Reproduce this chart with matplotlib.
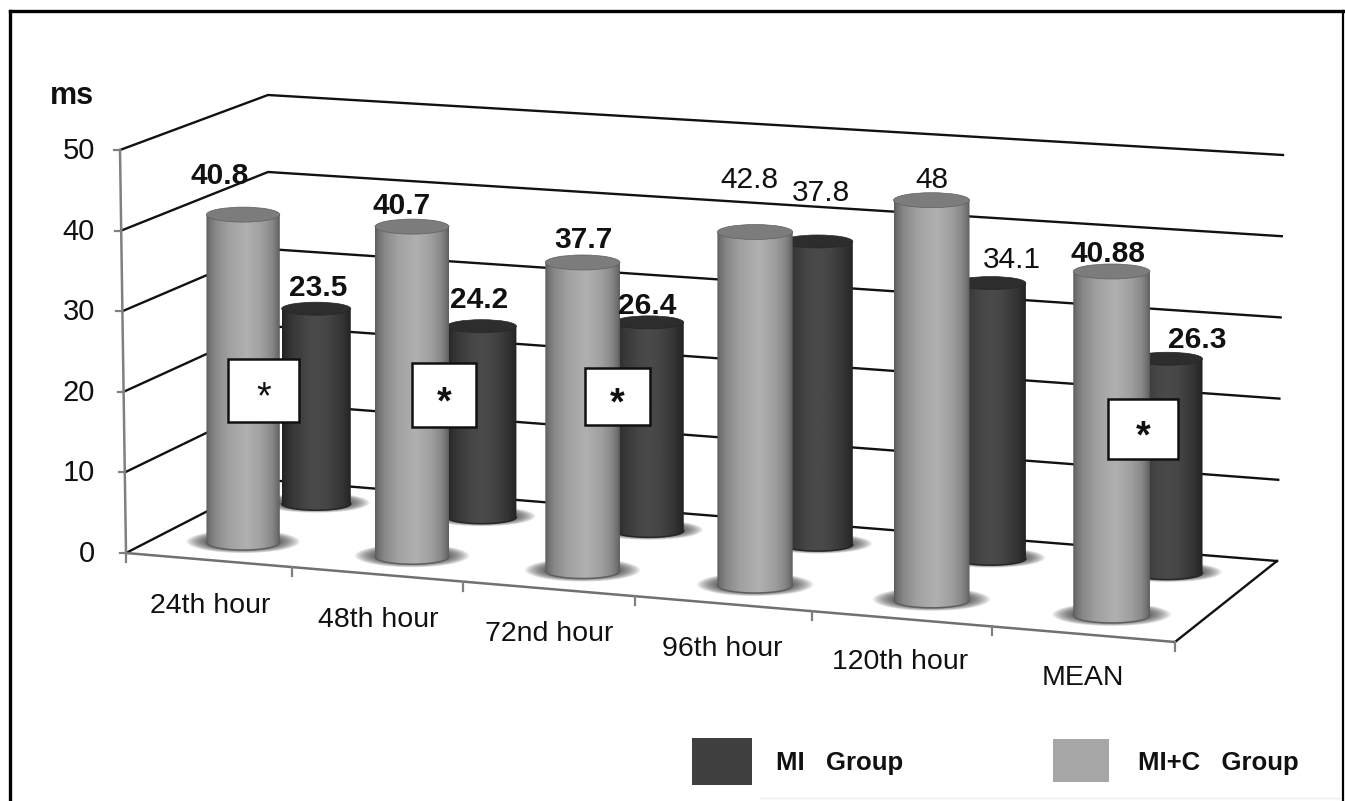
import numpy as np
import matplotlib
matplotlib.use('Agg')
import matplotlib.pyplot as plt
from matplotlib.patches import Polygon, Rectangle, Ellipse

plt.rcParams['font.family'] = ['Liberation Sans', 'DejaVu Sans']

# Data
categories = ['24th hour', '48th hour', '72nd hour', '96th hour', '120th hour', 'MEAN']
mic_labels = ['40.8', '40.7', '37.7', '42.8', '48', '40.88']
mi_labels = ['23.5', '24.2', '26.4', '37.8', '34.1', '26.3']
mic_bold = [True, True, True, False, False, True]
mi_bold = [True, True, True, False, False, True]
# bar heights as drawn, the first dark bar stands a bit above its printed label
mic_heights = [40.8, 40.7, 37.7, 42.8, 48.0, 40.88]
mi_heights = [24.9, 24.2, 26.2, 37.8, 34.1, 26.3]
y_ticks = [0, 10, 20, 30, 40, 50]

# Layout in image pixels
W, H = 1345, 801
P00, P10 = np.array([126., 553.]), np.array([1175., 642.])
P01, P11 = np.array([268., 480.]), np.array([1277., 561.])
DEPTH_MIC, DEPTH_MI = 0.213, 0.74
# perspective makes the groups spread out to the right
group_u = [0.0835, 0.2458, 0.4098, 0.5755, 0.7451, 0.9182]
tick_u = [0, 0.158, 0.321, 0.485, 0.654, 0.8255, 1]
mic_text_xy = [(219.5, 173), (402, 203), (583, 237), (749, 177), (932, 177), (1108, 252)]
mi_text_xy = [(318, 285.5), (479, 297), (647.5, 303), (821, 190.5), (1012, 257), (1197, 337)]
cat_text_xy = [(210, 604), (378, 618), (549, 632), (722, 647), (900, 660), (1083, 676)]
star_boxes = [(228, 359, 71, 63), (412, 363, 64, 64), (585, 368, 65, 57), (1108, 399, 70, 60)]
star_bold = [False, True, True, True]

fig = plt.figure(figsize=(W / 100, H / 100), dpi=100)
ax = fig.add_axes([0, 0, 1, 1])


def floor(u, d):
    return (P00 * (1 - u) * (1 - d) + P10 * u * (1 - d)
            + P01 * (1 - u) * d + P11 * u * d)


def cylinder(u, d, height, scale, rx, ry, stops, top_color, rim, z):
    cx, cy = floor(u, d)
    cy -= 2.2
    ty = cy - height * scale
    # soft floor shadow
    for k in np.linspace(1.55, 1.0, 16):
        ax.add_patch(Ellipse((cx, cy - 1), 2 * rx * k, 2 * ry * k * 1.0,
                             fc='#303030', ec='none', alpha=0.07, zorder=z))
    t = np.linspace(0, np.pi, 60)
    xs = np.r_[cx - rx, cx + rx * np.cos(t[::-1]), cx + rx]
    ys = np.r_[ty, cy + ry * np.sin(t[::-1]), ty]
    body = Polygon(np.c_[xs, ys], closed=True, fc='none', ec='none', zorder=z + 1)
    ax.add_patch(body)
    grad = np.interp(np.linspace(0, 1, 128), [s[0] for s in stops], [s[1] for s in stops])
    im = ax.imshow(grad[None, :], cmap='gray', vmin=0, vmax=255, aspect='auto',
                   extent=(cx - rx, cx + rx, cy + ry, ty), zorder=z + 1,
                   interpolation='bilinear')
    im.set_clip_path(body)
    ax.plot(cx + rx * np.cos(t), cy + ry * np.sin(t), color=rim, lw=1.1, zorder=z + 2)
    ax.add_patch(Ellipse((cx, ty), 2 * rx, 2 * ry, fc=top_color, ec=rim, lw=0.5, zorder=z + 2))


# Grid walls
for v in y_ticks:
    fl = P00 + np.array([-0.12 * v, -8.06 * v])
    bl = P01 + np.array([0, -7.7 * v])
    br = P11 + np.array([0.12 * v, -8.12 * v])
    ax.plot([fl[0], bl[0], br[0]], [fl[1], bl[1], br[1]], color='#111111', lw=1.7, zorder=1)
    ax.plot([fl[0] - 6, fl[0]], [fl[1], fl[1]], color='#808080', lw=1.6, zorder=1)
    ax.text(95, fl[1] + 1, str(v), ha='right', va='center', fontsize=21, color='#111111')

top = P00 + np.array([-0.12 * 50, -8.06 * 50])
ax.plot([P00[0], top[0]], [P00[1], top[1]], color='#808080', lw=1.8, zorder=2)

# Floor edges
ax.plot([P00[0], P10[0]], [P00[1], P10[1]], color='#707070', lw=1.8, zorder=2)
ax.plot([P10[0], P11[0]], [P10[1], P11[1]], color='#111111', lw=1.7, zorder=2)
for u in tick_u:
    px, py = floor(u, 0)
    ax.plot([px, px], [py, py + 9], color='#808080', lw=1.6, zorder=2)

# Cylinders, back row first in each group
mic_stops = [(0, 92), (0.04, 112), (0.12, 135), (0.3, 160), (0.55, 176),
             (0.75, 160), (0.9, 135), (0.97, 110), (1, 92)]
mi_stops = [(0, 34), (0.05, 44), (0.15, 56), (0.35, 70), (0.5, 74),
            (0.65, 70), (0.85, 54), (0.95, 42), (1, 34)]
for i, u in enumerate(group_u):
    cylinder(u, DEPTH_MI, mi_heights[i], 7.8 + 0.38 * u, 34.5 + u, 6.5,
             mi_stops, '#2d2d2d', '#262626', 10 + 4 * i)
    cylinder(u, DEPTH_MIC, mic_heights[i], 8.0 + 0.45 * u, 36.5 + 2 * u, 7.5,
             mic_stops, '#7c7c7c', '#5f5f5f', 12 + 4 * i)

# Value labels
for label, bold, xy in zip(mic_labels + mi_labels, mic_bold + mi_bold, mic_text_xy + mi_text_xy):
    ax.text(xy[0], xy[1] + 2.5, label, ha='center', va='center', fontsize=21.5, color='#111111',
            fontweight='bold' if bold else 'normal', zorder=60)

# Significance boxes
for (x, y, w, h), bold in zip(star_boxes, star_bold):
    ax.add_patch(Rectangle((x, y), w, h, fc='white', ec='#111111', lw=1.8, zorder=61))
    ax.text(x + w / 2, y + h / 2 + 8, '*', ha='center', va='center', fontsize=27,
            color='#111111', fontweight='bold' if bold else 'normal', zorder=62)

# Category labels
for label, xy in zip(categories, cat_text_xy):
    ax.text(xy[0], xy[1] + 2, label, ha='center', va='center', fontsize=20.5, color='#111111')

ax.text(72, 96, 'ms', ha='center', va='center', fontsize=22, fontweight='bold', color='#111111')

# Legend
ax.add_patch(Rectangle((692, 738), 60, 47, fc='#404040', ec='none'))
ax.add_patch(Rectangle((1053, 739), 56, 43, fc='#a6a6a6', ec='none'))
ax.text(776, 763, 'MI   Group', ha='left', va='center', fontsize=18.5, fontweight='bold', color='#111111')
ax.text(1138, 763, 'MI+C   Group', ha='left', va='center', fontsize=18.5, fontweight='bold', color='#111111')

# Outer frame
ax.plot([10, 10], [H, 11], color='black', lw=2.4, zorder=70)
ax.plot([10, 1343], [11, 11], color='black', lw=2.4, zorder=70)
ax.plot([1343, 1343], [11, H], color='black', lw=1.6, zorder=70)
ax.plot([760, 1340], [798, 798], color='#eeeeee', lw=1, zorder=70)

ax.set_xlim(0, W)
ax.set_ylim(H, 0)
ax.axis('off')
fig.savefig('out.png', dpi=100)
